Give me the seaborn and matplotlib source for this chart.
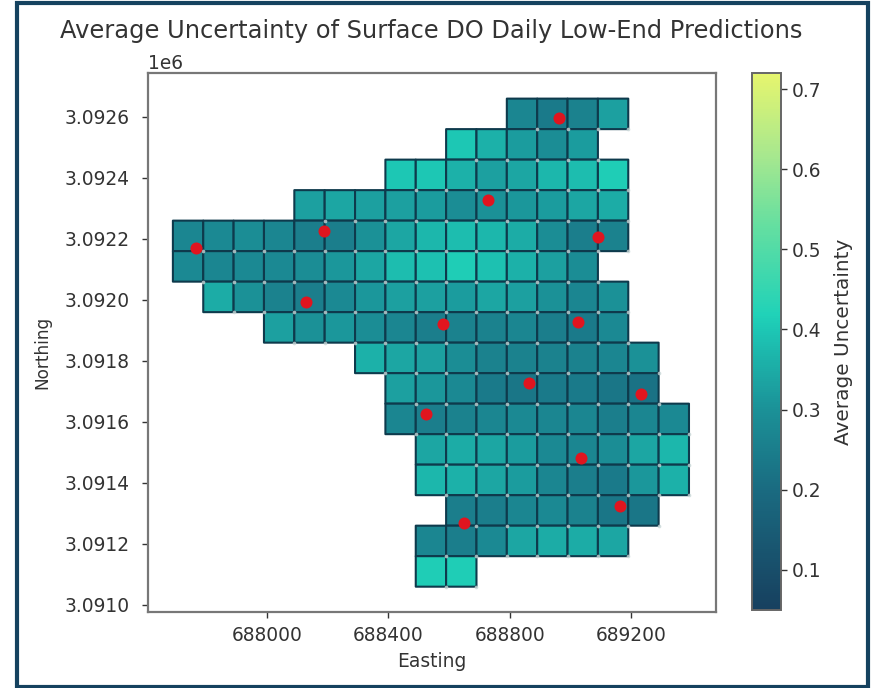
import numpy as np
import pandas as pd
import matplotlib
matplotlib.use("Agg")
import matplotlib.pyplot as plt
from matplotlib.colors import LinearSegmentedColormap
from matplotlib.patches import Rectangle
import seaborn as sns

sns.set_style("white")

title = "Average Uncertainty of Surface DO Daily Low-End Predictions"
x_label = "Easting"
y_label = "Northing"
cbar_label = "Average Uncertainty"

east_origin = 687690
north_top = 3092660
cell_size = 100
n_cols = 17

row_start = [11, 9, 7, 4, 0, 0, 1, 3, 6, 7, 7, 8, 8, 9, 8, 8]
r0 = [.27, .24, .26, .33]
r1 = [.40, .36, .32, .29, .32]
r2 = [.40, .40, .36, .33, .34, .37, .38, .41]
r3 = [.33, .34, .33, .33, .32, .29, .30, .31, .32, .34, .35]
r4 = [.27, .28, .29, .27, .25, .25, .30, .34, .37, .38, .37, .35, .29, .25, .26]
r5 = [.28, .27, .28, .28, .29, .31, .34, .38, .39, .41, .39, .36, .33, .29]
r6 = [.35, .30, .26, .25, .28, .31, .33, .33, .32, .34, .33, .30, .27, .30]
r7 = [.33, .30, .31, .29, .27, .25, .26, .26, .27, .25, .24, .28]
r8 = [.36, .34, .33, .29, .26, .26, .26, .26, .27, .30]
r9 = [.33, .31, .28, .24, .23, .24, .24, .23, .22]
r10 = [.27, .25, .26, .27, .28, .27, .27, .25, .27, .28]
r11 = [.34, .35, .34, .32, .28, .27, .29, .34, .37]
r12 = [.37, .36, .34, .32, .27, .25, .24, .31, .36]
r13 = [.25, .25, .27, .28, .26, .23, .23]
r14 = [.27, .25, .28, .34, .35, .35, .34]
r15 = [.41, .41]
rows = [r0, r1, r2, r3, r4, r5, r6, r7, r8, r9, r10, r11, r12, r13, r14, r15]

site_east = [687766, 688188, 688128, 688580, 688728, 688962, 689091,
             689025, 688863, 689232, 688524, 689035, 689163, 688649]
site_north = [3092170, 3092226, 3091993, 3091921, 3092328, 3092597, 3092207,
              3091928, 3091728, 3091692, 3091626, 3091482, 3091325, 3091269]

cmap = LinearSegmentedColormap.from_list(
    "unc",
    [(0.0, "#17405f"), (0.22, "#1a6a80"), (0.37, "#1b9097"), (0.52, "#1dc6b4"),
     (0.55, "#20d2b8"), (0.72, "#66dfa0"), (0.85, "#a8e88e"), (1.0, "#e6f56e")],
)

grid = np.full((len(rows), n_cols), np.nan)
for i, vals in enumerate(rows):
    grid[i, row_start[i]:row_start[i] + len(vals)] = vals
x_edges = east_origin + cell_size * np.arange(n_cols + 1)
y_edges = north_top - cell_size * np.arange(len(rows) + 1)

fig = plt.figure(figsize=(8.72, 6.88), dpi=100, facecolor="white")
W, H = 872, 688
FS = 13.4
ax = fig.add_axes([148 / W, 1 - 612 / H, 568 / W, 539 / H])
mesh = ax.pcolor(x_edges, y_edges, np.ma.masked_invalid(grid), cmap=cmap,
                 vmin=0.05, vmax=0.72, edgecolors="#0e3a4c", linewidth=1.5)

# pale specks at the lower-right corner of every cell
row_i, col_i = np.where(~np.isnan(grid))
corners = pd.DataFrame({"e": x_edges[col_i + 1], "n": y_edges[row_i + 1]})
sns.scatterplot(data=corners, x="e", y="n", color="#c8d6d6", s=7, linewidth=0, alpha=0.8, ax=ax, zorder=4)

sites = pd.DataFrame({"e": site_east, "n": site_north})
sns.scatterplot(data=sites, x="e", y="n", color="#e0151f", s=75, linewidth=0, ax=ax, zorder=5)

ax.set_xlim(687608, 689479)
ax.set_ylim(3090977, 3092744)
ax.set_xticks([688000, 688400, 688800, 689200])
ax.set_yticks(np.arange(3091000, 3092601, 200))
ax.ticklabel_format(axis="y", style="sci", scilimits=(6, 6), useOffset=False)
ax.tick_params(labelsize=FS, colors="#333333", length=4, width=1, bottom=True, left=True)
ax.tick_params(axis="x", pad=6)
ax.tick_params(axis="y", pad=9)
ax.yaxis.get_offset_text().set_fontsize(FS)
ax.yaxis.get_offset_text().set_color("#333333")
ax.set_xlabel(x_label, fontsize=FS, color="#333333", labelpad=5)
ax.set_ylabel(y_label, fontsize=12.2, color="#333333", labelpad=10, y=0.482)
for s in ax.spines.values():
    s.set_color("#777777")
    s.set_linewidth(1.6)
fig.text(431 / W, 1 - 31 / H, title, ha="center", va="center", fontsize=17.4, color="#333333")

cax = fig.add_axes([752 / W, 1 - 610 / H, 29 / W, 537 / H])
cb = fig.colorbar(mesh, cax=cax)
cb.set_ticks([.1, .2, .3, .4, .5, .6, .7])
cb.ax.tick_params(labelsize=FS, colors="#333333", length=4, width=1, right=True)
cb.set_label(cbar_label, fontsize=14.4, color="#333333", labelpad=9)
cb.outline.set_edgecolor("#666666")
cb.outline.set_linewidth(1.4)

fig.add_artist(Rectangle((16.5 / W, 1 - 686.5 / H), 851 / W, 684 / H, transform=fig.transFigure,
                         fill=False, edgecolor="#15425f", linewidth=3))
fig.savefig("out.png", dpi=100)
